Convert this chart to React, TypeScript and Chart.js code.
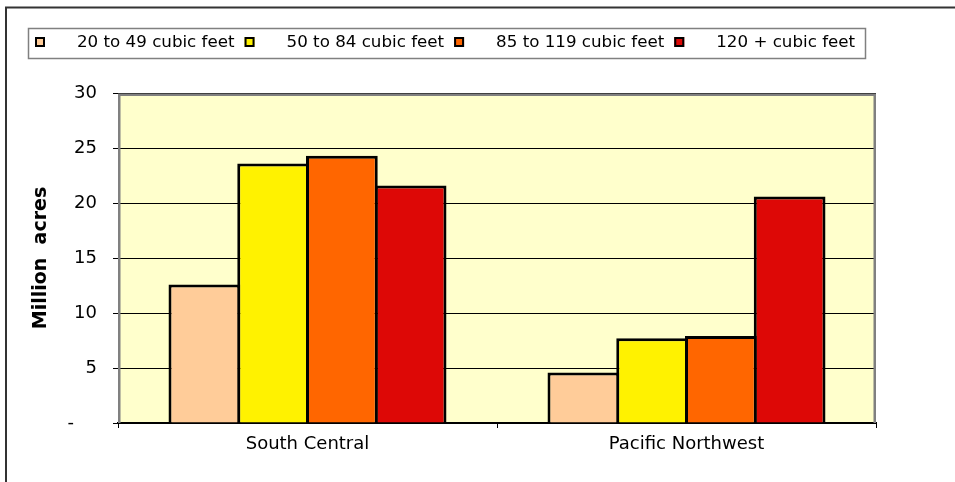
import React, { useEffect, useRef } from "react";
import { Chart, registerables } from "chart.js";

Chart.register(...registerables);

const categories = ["South Central", "Pacific Northwest"];
const seriesLabels = ["20 to 49 cubic feet", "50 to 84 cubic feet", "85 to 119 cubic feet", "120 + cubic feet"];
const s20to49 = [12.6, 4.6];
const s50to84 = [23.6, 7.7];
const s85to119 = [24.3, 7.9];
const s120plus = [21.6, 20.6];
const seriesColors = ["#FFCC99", "#FFF200", "#FF6600", "#DD0806"];
const yTicks = [0, 5, 10, 15, 20, 25, 30];
const yTitle = "Million  acres";

const FONT = '"DejaVu Sans", "Liberation Sans", Arial, sans-serif';

const framePlugin = {
  id: "framePlugin",
  beforeDraw(chart: any) {
    const { ctx, chartArea } = chart;
    ctx.save();
    ctx.fillStyle = "#FFFFCC";
    ctx.fillRect(chartArea.left, chartArea.top, chartArea.right - chartArea.left, chartArea.bottom - chartArea.top);
    ctx.restore();
  },
  beforeDatasetsDraw(chart: any) {
    const { ctx, chartArea } = chart;
    const { left, top, right, bottom } = chartArea;
    ctx.save();
    ctx.strokeStyle = "#808080";
    ctx.lineWidth = 2.5;
    ctx.beginPath();
    ctx.moveTo(left + 1.25, bottom);
    ctx.lineTo(left + 1.25, top + 1.75);
    ctx.lineTo(right - 1.25, top + 1.75);
    ctx.lineTo(right - 1.25, bottom);
    ctx.stroke();
    ctx.restore();
  },
  afterDraw(chart: any) {
    const { ctx } = chart;
    ctx.save();
    // outer frame
    ctx.strokeStyle = "#333333";
    ctx.lineWidth = 2;
    ctx.beginPath();
    ctx.moveTo(6, 482);
    ctx.lineTo(6, 7.5);
    ctx.lineTo(955, 7.5);
    ctx.stroke();
    // legend box
    ctx.strokeStyle = "#808080";
    ctx.lineWidth = 1.5;
    ctx.strokeRect(28.5, 28.5, 837, 30);
    ctx.font = "16.7px " + FONT;
    ctx.textBaseline = "middle";
    ctx.textAlign = "left";
    let x = 35;
    chart.data.datasets.forEach((ds: any) => {
      ctx.fillStyle = ds.backgroundColor;
      ctx.fillRect(x, 37, 10, 10);
      ctx.strokeStyle = "#000";
      ctx.lineWidth = 2;
      ctx.strokeRect(x + 1, 38, 8, 8);
      ctx.fillStyle = "#000";
      ctx.fillText(ds.label, x + 42, 43);
      x = x + 42 + ctx.measureText(ds.label).width + 10;
    });
    ctx.restore();
  },
};

export default function App() {
  const ref = useRef<HTMLCanvasElement>(null);
  useEffect(() => {
    if (!ref.current) return;
    const values = [s20to49, s50to84, s85to119, s120plus];
    const chart = new Chart(ref.current, {
      type: "bar",
      data: {
        labels: categories,
        datasets: seriesLabels.map((label, i) => ({
          label,
          data: values[i],
          backgroundColor: seriesColors[i],
          borderColor: "#000",
          borderWidth: 3,
          borderSkipped: "bottom",
          categoryPercentage: 0.7256,
          barPercentage: 1.0436,
        })),
      },
      options: {
        responsive: false,
        animation: false,
        devicePixelRatio: 1,
        layout: { padding: { top: 93, right: 79, bottom: 0, left: 0 } },
        plugins: {
          legend: { display: false },
          tooltip: { enabled: false },
        },
        scales: {
          x: {
            afterFit: (s: any) => { s.height = 59; },
            grid: {
              display: true,
              drawOnChartArea: false,
              drawTicks: true,
              tickLength: 5,
              color: "#000",
              offset: true,
            },
            border: { display: true, color: "#000", width: 2 },
            ticks: { color: "#000", font: { family: FONT, size: 18 }, padding: 6 },
          },
          y: {
            min: 0,
            max: 30,
            afterFit: (s: any) => { s.width = 118; },
            afterBuildTicks: (s: any) => { s.ticks = yTicks.map((v) => ({ value: v })); },
            grid: { color: "#000", lineWidth: 1, drawTicks: true, tickLength: 5 },
            border: { display: false },
            ticks: {
              color: "#000",
              font: { family: FONT, size: 18 },
              padding: 16,
              callback: (v: any) => (v === 0 ? "-    " : String(v)),
            },
            title: {
              display: true,
              text: yTitle,
              color: "#000",
              font: { family: FONT, size: 19, weight: "bold" },
              padding: { top: 30, bottom: 0 },
            },
          },
        },
      },
      plugins: [framePlugin],
    });
    return () => chart.destroy();
  }, []);
  return (
    <div style={{ position: "absolute", left: 0, top: 0, width: 955, height: 482, background: "#fff" }}>
      <canvas ref={ref} width={955} height={482} style={{ display: "block" }} />
    </div>
  );
}
